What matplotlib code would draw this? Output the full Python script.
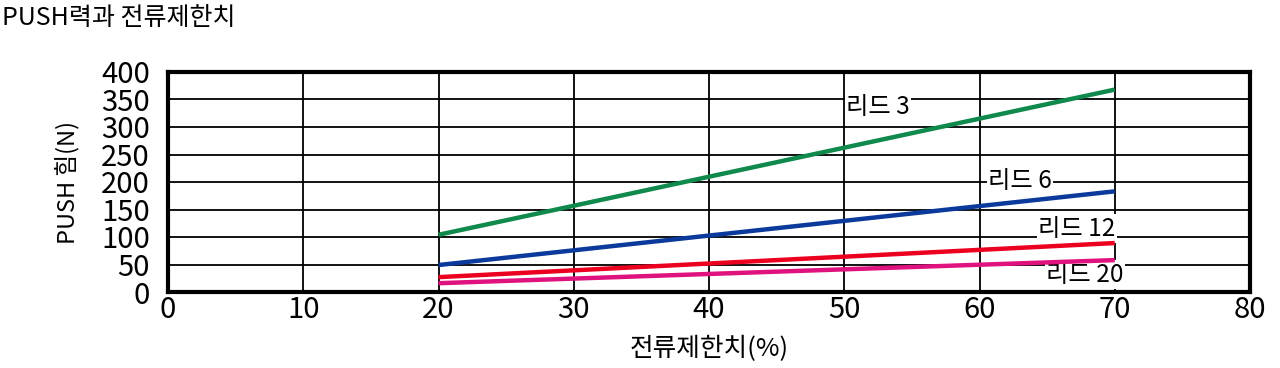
import matplotlib
matplotlib.use("Agg")
import matplotlib.pyplot as plt

plt.rcParams['font.family'] = ['Noto Sans CJK KR', 'DejaVu Sans']

x_vals = [20, 70]
lead3 = [104, 368]
lead6 = [49, 183]
lead12 = [27, 89]
lead20 = [16, 58]

series_names = ["리드 3", "리드 6", "리드 12", "리드 20"]
series_data = [lead3, lead6, lead12, lead20]
colors = ["#0f8a4c", "#0b3a9c", "#ec0020", "#e0127e"]
label_pos = [(52.5, 336), (63.0, 202), (67.2, 115), (67.8, 31)]

x_ticks = list(range(0, 81, 10))
y_ticks = list(range(0, 401, 50))

fig = plt.figure(figsize=(12.8, 3.68), dpi=100)
ax = fig.add_axes([168/1280, 1-292/368, (1250-168)/1280, (292-72)/368])

for v in x_ticks[1:-1]:
    ax.axvline(v, color="black", lw=1.3, zorder=1)
for v in y_ticks[1:-1]:
    ax.axhline(v, color="black", lw=1.3, zorder=1)

for name, data, c, (lx, ly) in zip(series_names, series_data, colors, label_pos):
    ax.plot(x_vals, data, color=c, lw=3.2, solid_capstyle="butt", zorder=4)
    ax.text(lx, ly, name, fontsize=17.5, fontweight="medium", ha="center", va="center", zorder=3,
            bbox=dict(facecolor="white", edgecolor="none", pad=1.0))

ax.set_xlim(0, 80)
ax.set_ylim(0, 400)
ax.set_xticks(x_ticks)
ax.set_yticks(y_ticks)
ax.tick_params(length=0, labelsize=21)
ax.tick_params(axis="y", pad=13)
ax.tick_params(axis="x", pad=2)
for lbl in ax.get_xticklabels() + ax.get_yticklabels():
    lbl.set_fontweight("light")
for s in ax.spines.values():
    s.set_linewidth(3)
    s.set_color("black")
    s.set_zorder(5)

ax.set_xlabel("전류제한치(%)", fontsize=18.5, labelpad=8)
ax.set_ylabel("PUSH 힘(N)", fontsize=17, labelpad=16)
fig.text(2/1280, 1-18/368, "PUSH력과 전류제한치", fontsize=18, ha="left", va="center")

fig.savefig("out.png", dpi=100)
